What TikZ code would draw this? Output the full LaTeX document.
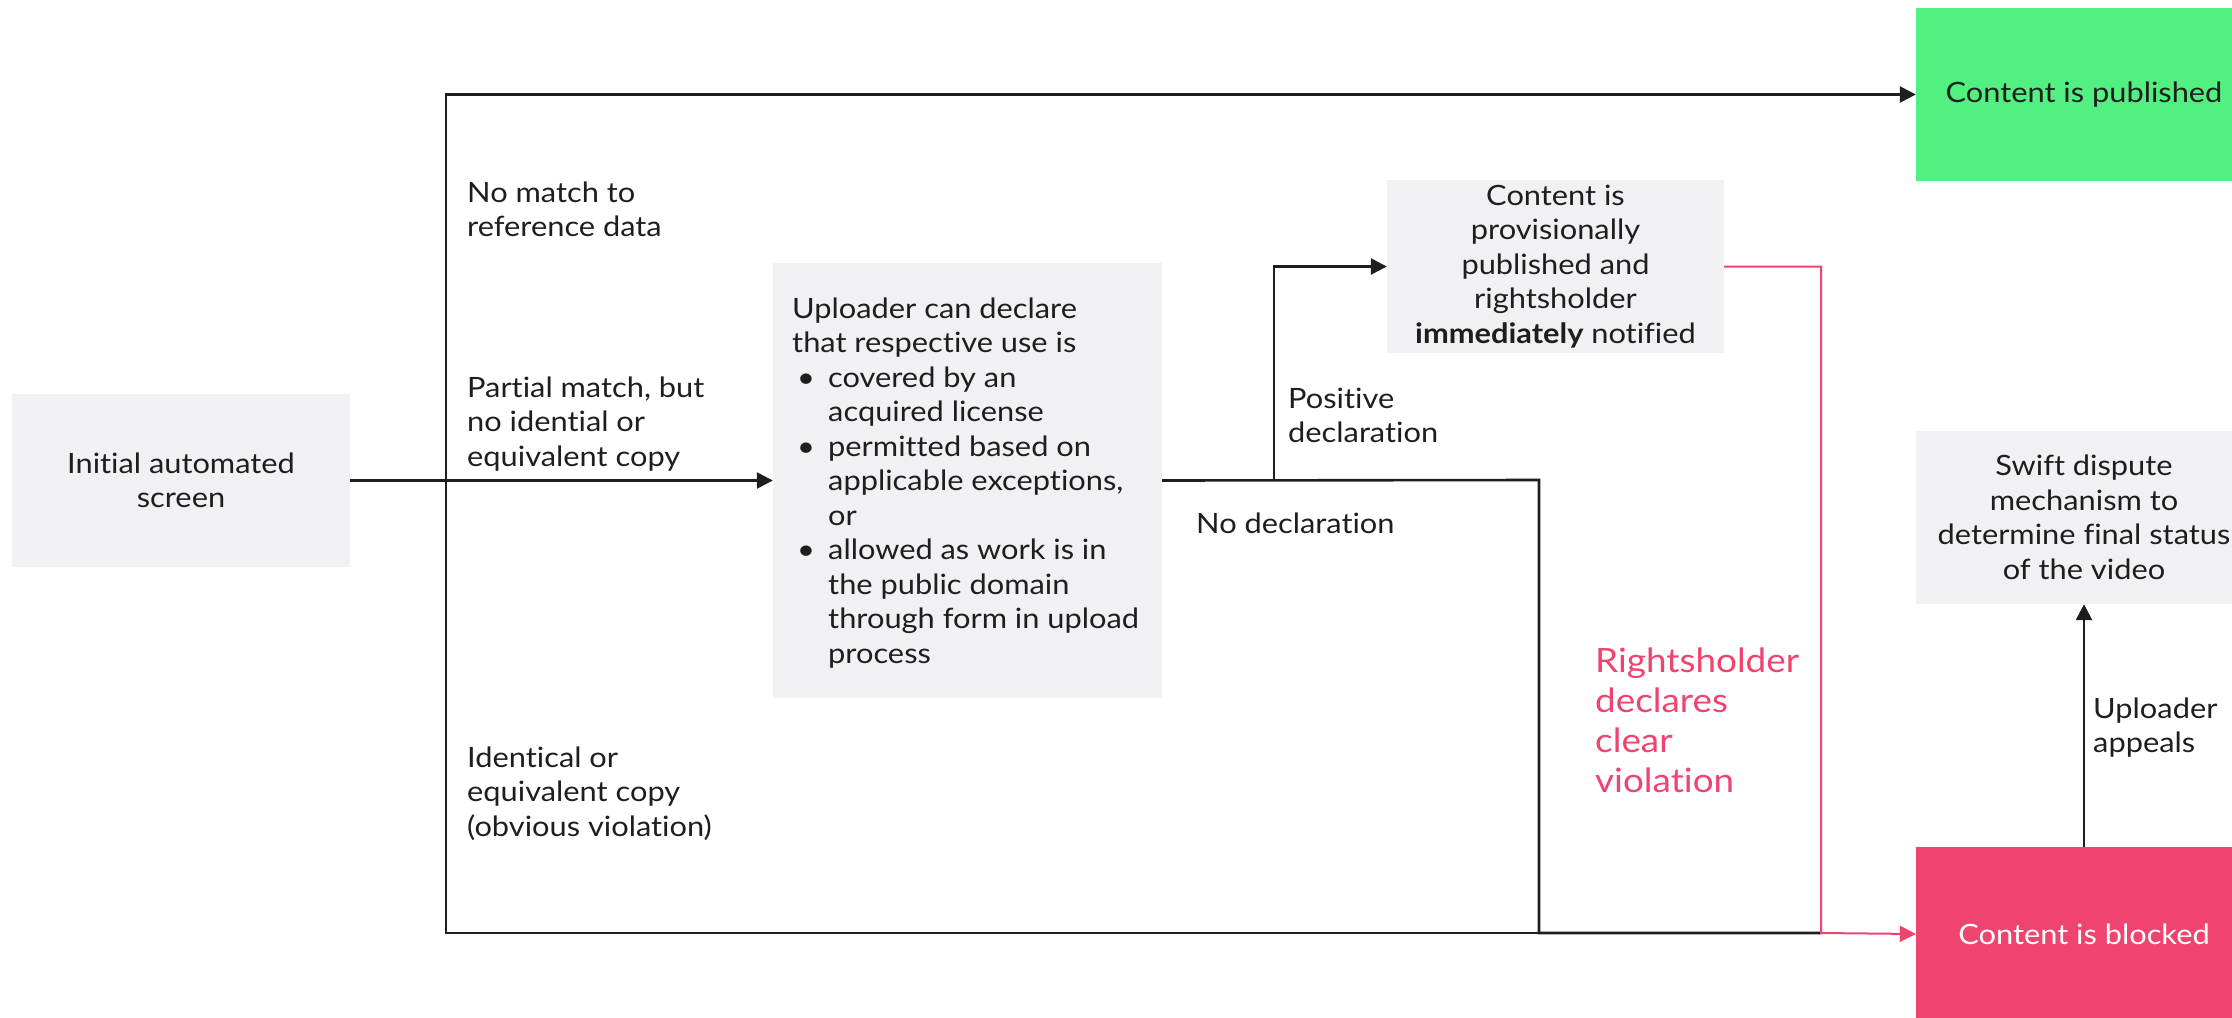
\documentclass[tikz,border=0pt]{standalone}
\usepackage{fontspec}
\setmainfont{Lato}[FakeStretch=1.1, Ligatures=NoCommon]
\usetikzlibrary{arrows.meta}
\definecolor{boxgrey}{HTML}{F1F0F3}
\definecolor{pubgreen}{HTML}{52F080}
\definecolor{blockred}{HTML}{EE446F}
\definecolor{ink}{HTML}{1E1E1E}
\newcommand{\tlines}[1]{\begin{tabular}[t]{@{}l@{}}#1\end{tabular}}
\newcommand{\bul}{\hspace*{5pt}\makebox[31pt][l]{\textbullet}}
\newcommand{\ind}{\hspace*{36pt}}
\begin{document}
\begin{tikzpicture}[x=1pt,y=-1pt,
  font=\fontsize{28}{34.5}\selectfont, text=ink,
  box/.style={fill=boxgrey, inner sep=0pt, align=center},
  lbl/.style={anchor=base west, inner sep=0pt},
  conn/.style={draw=ink, line width=2.6pt, -{Triangle[length=16pt,width=16pt]}},
  plainline/.style={draw=ink, line width=2.6pt},
  redconn/.style={draw=blockred, line width=2pt, -{Triangle[length=16pt,width=16pt]}}]
\useasboundingbox (0,0) rectangle (2232,1017);

\node[box, minimum width=338pt, minimum height=173pt] (init) at (181,480.5) {Initial automated\\screen};
\node[box, minimum width=389pt, minimum height=435pt] (upl) at (967.5,480.5) {};
\node[lbl] (upltext) at (792,318)
 {\tlines{Uploader can declare\\that respective use is\\
  \bul covered by an\\
  \ind acquired license\\
  \bul permitted based on\\
  \ind applicable exceptions,\\
  \ind or\\
  \bul allowed as work is in\\
  \ind the public domain\\
  \ind through form in upload\\
  \ind process}};
\node[box, minimum width=337pt, minimum height=173pt] (prov) at (1555.5,266.5)
 {Content is\\provisionally\\published and\\rightsholder\\\textbf{immediately} notified};
\node[box, fill=pubgreen, minimum width=336pt, minimum height=173pt] (pub) at (2084,94.5) {Content is published};
\node[box, minimum width=336pt, minimum height=173pt] (swift) at (2084,517.5)
 {Swift dispute\\mechanism to\\determine final status\\of the video};
\node[box, fill=blockred, text=white, minimum width=336pt, minimum height=174pt] (blocked) at (2084,934) {Content is blocked};

\coordinate (split) at (446,480);
\coordinate (merge) at (1821,933);
\coordinate (posfork) at (1274,480);
\coordinate (nodecl) at (1539,480);

\draw[conn] (init.east) -- (upl.west);
\draw[conn] (split) |- (pub.west);
\draw[plainline] (split) |- (merge);
\draw[plainline] (upl.east) -- (nodecl) |- (merge);
\draw[conn] (posfork) |- (prov.west);
\draw[redconn] (prov.east) -| (merge) -- (blocked.west);
\draw[conn] (blocked.north) -- (swift.south);

\node[lbl] (l1) at (467,202) {\tlines{No match to\\reference data}};
\node[lbl] (l2) at (467,397) {\tlines{Partial match, but\\no idential or\\equivalent copy}};
\node[lbl] (l3) at (467,767) {\tlines{Identical or\\equivalent copy\\(obvious violation)}};
\node[lbl] (l4) at (1288,408) {\tlines{Positive\\declaration}};
\node[lbl] (l5) at (1196,533) {No declaration};
\node[lbl] (l6) at (2093,718) {\tlines{Uploader\\appeals}};
\node[lbl, text=blockred, font=\fontsize{33.5}{40}\selectfont] (l7) at (1595,672) {\tlines{Rightsholder\\declares\\clear\\violation}};
\end{tikzpicture}
\end{document}
